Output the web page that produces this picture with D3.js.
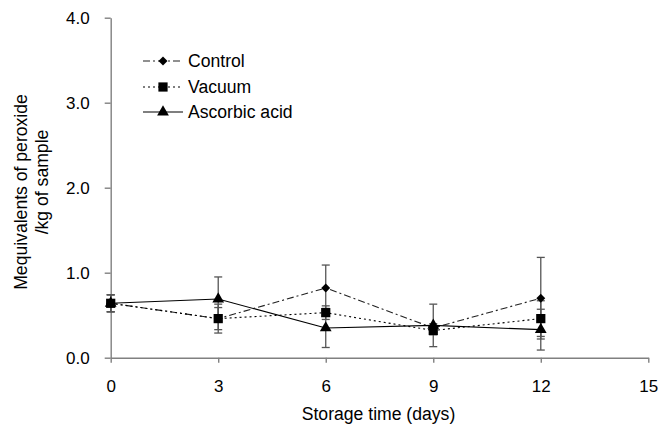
<!DOCTYPE html>
<html>
<head>
<meta charset="utf-8">
<script src="https://cdn.jsdelivr.net/npm/d3@7"></script>
<style>
  html, body { margin: 0; padding: 0; background: #fff; }
  svg { display: block; font-family: Arial, "Liberation Sans", sans-serif; }
</style>
</head>
<body>
<svg id="chart" width="670" height="425"></svg>
<script>
const days = [0, 3, 6, 9, 12];
const xTicks = [0, 3, 6, 9, 12, 15];
const yTicks = [0, 1, 2, 3, 4];
const seriesNames = ["Control", "Vacuum", "Ascorbic acid"];
const controlValues = [0.64, 0.46, 0.82, 0.35, 0.70];
const vacuumValues = [0.64, 0.46, 0.53, 0.32, 0.46];
const ascorbicValues = [0.64, 0.69, 0.35, 0.38, 0.33];
const controlErrors = [0.10, 0.13, 0.27, 0.05, 0.48];
const vacuumErrors = [0.10, 0.17, 0.08, 0.05, 0.21];
const ascorbicErrors = [0.10, 0.26, 0.23, 0.25, 0.24];
const xTitle = "Storage time (days)";
const yTitle1 = "Mequivalents of peroxide";
const yTitle2 = "/kg of sample";

const series = [
  { name: seriesNames[0], values: controlValues, errors: controlErrors, dash: "7,3,2,3", color: "#222", symbol: d3.symbolSquare, size: 40, rot: 45 },
  { name: seriesNames[1], values: vacuumValues, errors: vacuumErrors, dash: "2,3", color: "#000", symbol: d3.symbolSquare, size: 85, rot: 0 },
  { name: seriesNames[2], values: ascorbicValues, errors: ascorbicErrors, dash: null, color: "#000", symbol: d3.symbolTriangle, size: 60, rot: 0 }
];

const svg = d3.select("#chart");
const x = d3.scaleLinear().domain([0, 15]).range([110.7, 648.3]);
const y = d3.scaleLinear().domain([0, 4]).range([357.7, 17.7]);
const axisColor = "#808080";
const tickFont = "17px";
const labelFont = "17.6px";

// X axis
const xAxis = svg.append("g").attr("transform", `translate(0,${y(0)})`)
  .call(d3.axisBottom(x).tickValues(xTicks).tickSize(5).tickPadding(17).tickSizeOuter(0).tickFormat(d3.format("d")));
xAxis.select(".domain").attr("stroke", axisColor).attr("stroke-width", 1.4);
xAxis.selectAll(".tick line").attr("stroke", axisColor).attr("stroke-width", 1.4);
xAxis.selectAll(".tick text").attr("fill", "#000").style("font-size", tickFont).style("font-family", "Arial, 'Liberation Sans', sans-serif");

// Y axis
const yAxis = svg.append("g").attr("transform", `translate(${x(0)},0)`)
  .call(d3.axisLeft(y).tickValues(yTicks).tickSize(6).tickPadding(15).tickSizeOuter(0).tickFormat(d3.format(".1f")));
yAxis.select(".domain").attr("stroke", axisColor).attr("stroke-width", 1.4);
yAxis.selectAll(".tick line").attr("stroke", axisColor).attr("stroke-width", 1.4);
yAxis.selectAll(".tick text").attr("fill", "#000").style("font-size", tickFont).style("font-family", "Arial, 'Liberation Sans', sans-serif");

// Axis titles
svg.append("text").attr("x", (x(0) + x(15)) / 2 - 1).attr("y", 420)
  .attr("text-anchor", "middle").style("font-size", labelFont).text(xTitle);
svg.append("text").attr("transform", `translate(27,192) rotate(-90)`)
  .attr("text-anchor", "middle").style("font-size", labelFont).text(yTitle1);
svg.append("text").attr("transform", `translate(48,182) rotate(-90)`)
  .attr("text-anchor", "middle").style("font-size", labelFont).text(yTitle2);

// Error bars
const capW = 4;
series.forEach(s => {
  const g = svg.append("g").attr("stroke", "#555").attr("stroke-width", 1.3);
  days.forEach((d, i) => {
    const cx = x(d), top = y(s.values[i] + s.errors[i]), bot = y(s.values[i] - s.errors[i]);
    g.append("line").attr("x1", cx).attr("x2", cx).attr("y1", top).attr("y2", bot);
    g.append("line").attr("x1", cx - capW).attr("x2", cx + capW).attr("y1", top).attr("y2", top);
    g.append("line").attr("x1", cx - capW).attr("x2", cx + capW).attr("y1", bot).attr("y2", bot);
  });
});

// Lines
const line = d3.line().x((d, i) => x(days[i])).y(d => y(d));
series.forEach(s => {
  svg.append("path").datum(s.values).attr("d", line)
    .attr("fill", "none").attr("stroke", s.color).attr("stroke-width", 1.1)
    .attr("stroke-dasharray", s.dash);
});

// Markers
series.forEach(s => {
  svg.append("g").selectAll("path").data(s.values).join("path")
    .attr("d", d3.symbol().type(s.symbol).size(s.size))
    .attr("transform", (d, i) => `translate(${x(days[i])},${y(d)}) rotate(${s.rot})`)
    .attr("fill", "#000");
});

// Legend
const legendRows = [61, 87, 112];
series.forEach((s, i) => {
  const ly = legendRows[i];
  svg.append("line").attr("x1", 143).attr("x2", 183).attr("y1", ly).attr("y2", ly)
    .attr("stroke", s.color).attr("stroke-width", 1.1).attr("stroke-dasharray", s.dash);
  svg.append("path").attr("d", d3.symbol().type(s.symbol).size(s.size))
    .attr("transform", `translate(163,${ly}) rotate(${s.rot})`).attr("fill", "#000");
  svg.append("text").attr("x", 188).attr("y", ly + 6).style("font-size", labelFont).text(s.name);
});
</script>
</body>
</html>
